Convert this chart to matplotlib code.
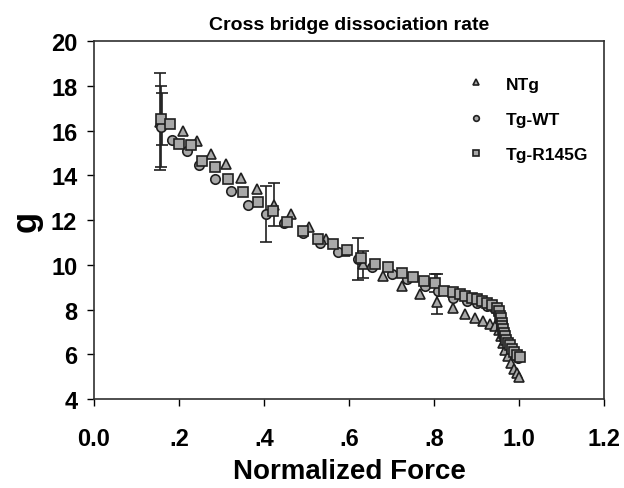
import matplotlib
matplotlib.use("Agg")
import matplotlib.pyplot as plt

plt.rcParams['font.family'] = ['Liberation Sans', 'DejaVu Sans']
plt.rcParams['font.weight'] = 'bold'

# NTg (triangles)
ntg_x = [0.155, 0.210, 0.242, 0.275, 0.310, 0.346, 0.383, 0.424, 0.463, 0.506,
         0.546, 0.590, 0.634, 0.681, 0.724, 0.767, 0.806, 0.845, 0.873, 0.896,
         0.916, 0.932, 0.944, 0.952, 0.958, 0.963, 0.968, 0.973, 0.980, 0.988,
         0.995, 1.000]
ntg_y = [16.4, 15.96, 15.53, 14.94, 14.50, 13.88, 13.38, 12.69, 12.29, 11.69,
         11.14, 10.60, 10.02, 9.50, 9.05, 8.68, 8.34, 8.05, 7.79, 7.64,
         7.49, 7.34, 7.26, 7.10, 6.80, 6.50, 6.20, 5.90, 5.60, 5.35,
         5.15, 5.00]

# Tg-WT (circles)
wt_x = [0.157, 0.184, 0.218, 0.248, 0.285, 0.322, 0.363, 0.405, 0.448, 0.491,
        0.532, 0.575, 0.620, 0.654, 0.700, 0.736, 0.779, 0.810, 0.845, 0.877,
        0.900, 0.924, 0.940, 0.950, 0.955, 0.960, 0.965, 0.970, 0.975, 0.982,
        0.990, 0.998]
wt_y = [16.18, 15.58, 15.09, 14.47, 13.83, 13.30, 12.66, 12.26, 11.86, 11.40,
        10.99, 10.55, 10.25, 9.89, 9.57, 9.35, 9.05, 8.83, 8.53, 8.38,
        8.28, 8.16, 8.05, 7.90, 7.60, 7.30, 7.00, 6.70, 6.45, 6.20,
        6.00, 5.85]

# Tg-R145G (squares)
r145g_x = [0.157, 0.179, 0.201, 0.228, 0.255, 0.285, 0.316, 0.351, 0.387, 0.422,
           0.455, 0.491, 0.528, 0.562, 0.595, 0.628, 0.661, 0.692, 0.724, 0.751,
           0.776, 0.802, 0.824, 0.844, 0.861, 0.873, 0.889, 0.900, 0.912, 0.924,
           0.936, 0.948, 0.952, 0.955, 0.957, 0.959, 0.961, 0.963, 0.965, 0.967,
           0.970, 0.975, 0.978, 0.983, 0.988, 0.995, 1.002]
r145g_y = [16.51, 16.29, 15.42, 15.35, 14.64, 14.35, 13.83, 13.26, 12.81, 12.41,
           11.89, 11.49, 11.14, 10.92, 10.66, 10.32, 10.05, 9.92, 9.65, 9.47,
           9.28, 9.20, 8.83, 8.80, 8.68, 8.60, 8.53, 8.46, 8.38, 8.28,
           8.19, 8.08, 7.95, 7.71, 7.60, 7.41, 7.25, 7.11, 6.95, 6.81,
           6.65, 6.52, 6.40, 6.22, 6.10, 5.95, 5.87]

# error bars: x, y, err
err_x = [0.155, 0.157, 0.160, 0.405, 0.424, 0.620, 0.634, 0.806, 0.802]
err_y = [16.4, 16.18, 16.51, 12.26, 12.69, 10.25, 10.02, 8.70, 9.20]
err_e = [2.15, 1.80, 1.15, 1.25, 0.95, 0.95, 0.60, 0.90, 0.40]

fig = plt.figure(figsize=(6.24, 4.89), dpi=100)
ax = fig.add_axes([0.1506, 0.182, 0.8174, 0.732])

ax.errorbar(err_x, err_y, yerr=err_e, fmt='none', ecolor='#202020',
            elinewidth=1.2, capsize=4, capthick=1.2, zorder=1)

mk = dict(linestyle='none', markerfacecolor='#a8a8a8', markeredgecolor='#202020',
          markeredgewidth=1.2, markersize=6.8, zorder=2)
ax.plot(ntg_x, ntg_y, marker='^', label='NTg', **mk)
ax.plot(wt_x, wt_y, marker='o', label='Tg-WT', **mk)
ax.plot(r145g_x, r145g_y, marker='s', label='Tg-R145G', **mk)

ax.set_xlim(0, 1.2)
ax.set_ylim(4, 20)
ax.set_xticks([0, 0.2, 0.4, 0.6, 0.8, 1.0, 1.2])
ax.set_xticklabels(['0.0', '.2', '.4', '.6', '.8', '1.0', '1.2'])
ax.set_yticks(range(4, 21, 2))
ax.tick_params(direction='out', length=5, width=1, labelsize=17)
ax.tick_params(axis='x', pad=15)
ax.tick_params(axis='y', pad=7)
for s in ax.spines.values():
    s.set_linewidth(1.2)
    s.set_color('#303030')

ax.set_xlabel('Normalized Force', fontsize=20, fontweight='bold', labelpad=6)
ax.set_ylabel('g', fontsize=25, fontweight='bold', labelpad=6)
ax.set_title('Cross bridge dissociation rate', fontsize=14, fontweight='bold', pad=9)

ax.legend(loc='upper right', bbox_to_anchor=(1.0, 0.945), frameon=False,
          fontsize=12.5, markerscale=0.6, labelspacing=1.15, handletextpad=0.7)

fig.savefig('out.png', dpi=100)
